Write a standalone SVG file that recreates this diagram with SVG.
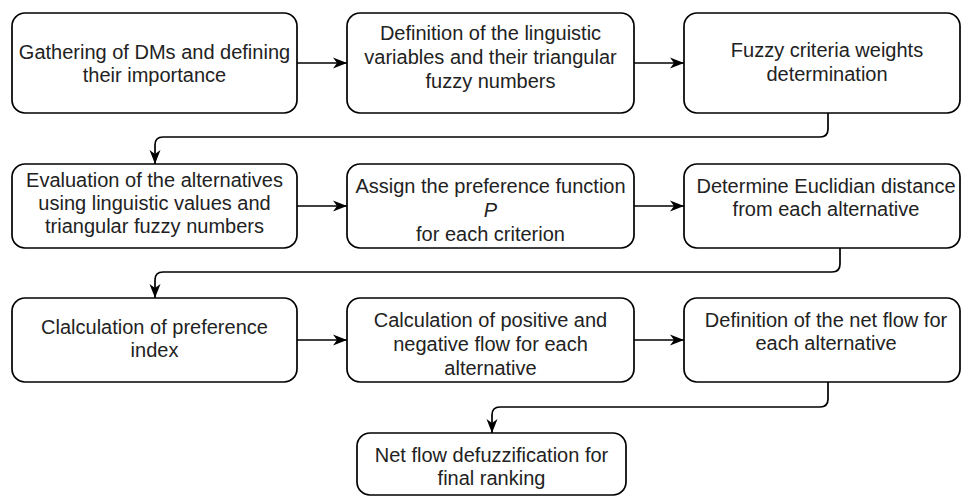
<svg xmlns="http://www.w3.org/2000/svg" width="962" height="497" viewBox="0 0 962 497">
<defs>
<style>
.box{fill:#fff;stroke:#000;stroke-width:1.7}
.t{font-family:"Liberation Sans",Arial,Helvetica,sans-serif;font-size:20px;fill:#222;text-anchor:middle}
.c{fill:none;stroke:#000;stroke-width:1.7}
</style>
<marker id="arr" viewBox="0 0 14 14" refX="14" refY="7" markerWidth="14" markerHeight="14" orient="auto" markerUnits="userSpaceOnUse">
<path d="M0,1.5 L14,7 L0,12.5 L4,7 Z" fill="#000"/>
</marker>
</defs>
<rect width="962" height="497" fill="#fff"/>
<g id="connectors">
<path class="c" d="M297,63 H347" marker-end="url(#arr)"/>
<path class="c" d="M634,63 H684" marker-end="url(#arr)"/>
<path class="c" d="M828,113 V129 Q828,137 820,137 H163 Q155,137 155,145 V164" marker-end="url(#arr)"/>
<path class="c" d="M297,206 H347" marker-end="url(#arr)"/>
<path class="c" d="M634,206 H684" marker-end="url(#arr)"/>
<path class="c" d="M840,248 V264 Q840,272 832,272 H163 Q155,272 155,280 V298" marker-end="url(#arr)"/>
<path class="c" d="M297,340 H347" marker-end="url(#arr)"/>
<path class="c" d="M634,340 H684" marker-end="url(#arr)"/>
<path class="c" d="M828,382 V399 Q828,407 820,407 H500 Q492,407 492,415 V433" marker-end="url(#arr)"/>
</g>
<g id="n1">
<rect class="box" x="12" y="13" width="285" height="100" rx="13"/>
<text class="t" x="154.5" y="59">Gathering of DMs and defining</text>
<text class="t" x="154.5" y="82">their importance</text>
</g>
<g id="n2">
<rect class="box" x="347" y="13" width="287" height="100" rx="13"/>
<text class="t" x="490.5" y="40">Definition of the linguistic</text>
<text class="t" x="490.5" y="64">variables and their triangular</text>
<text class="t" x="490.5" y="88">fuzzy numbers</text>
</g>
<g id="n3">
<rect class="box" x="684" y="13" width="276" height="100" rx="13"/>
<text class="t" x="827" y="57">Fuzzy criteria weights</text>
<text class="t" x="827" y="81">determination</text>
</g>
<g id="n4">
<rect class="box" x="12" y="164" width="285" height="84" rx="13"/>
<text class="t" x="154.5" y="187">Evaluation of the alternatives</text>
<text class="t" x="154.5" y="210">using linguistic values and</text>
<text class="t" x="154.5" y="233">triangular fuzzy numbers</text>
</g>
<g id="n5">
<rect class="box" x="347" y="164" width="287" height="84" rx="13"/>
<text class="t" x="490.5" y="193">Assign the preference function</text>
<text class="t" x="490.5" y="217" font-style="italic">P</text>
<text class="t" x="490.5" y="241">for each criterion</text>
</g>
<g id="n6">
<rect class="box" x="684" y="164" width="276" height="84" rx="13"/>
<text class="t" x="826" y="193">Determine Euclidian distance</text>
<text class="t" x="826" y="216">from each alternative</text>
</g>
<g id="n7">
<rect class="box" x="12" y="298" width="285" height="84" rx="13"/>
<text class="t" x="154.5" y="334">Clalculation of preference</text>
<text class="t" x="154.5" y="357">index</text>
</g>
<g id="n8">
<rect class="box" x="347" y="298" width="287" height="84" rx="13"/>
<text class="t" x="490.5" y="327">Calculation of positive and</text>
<text class="t" x="490.5" y="351">negative flow for each</text>
<text class="t" x="490.5" y="375">alternative</text>
</g>
<g id="n9">
<rect class="box" x="684" y="298" width="276" height="84" rx="13"/>
<text class="t" x="826" y="327">Definition of the net flow for</text>
<text class="t" x="826" y="350">each alternative</text>
</g>
<g id="n10">
<rect class="box" x="357" y="433" width="269" height="62" rx="13"/>
<text class="t" x="491.5" y="462">Net flow defuzzification for</text>
<text class="t" x="491.5" y="485">final ranking</text>
</g>
</svg>
